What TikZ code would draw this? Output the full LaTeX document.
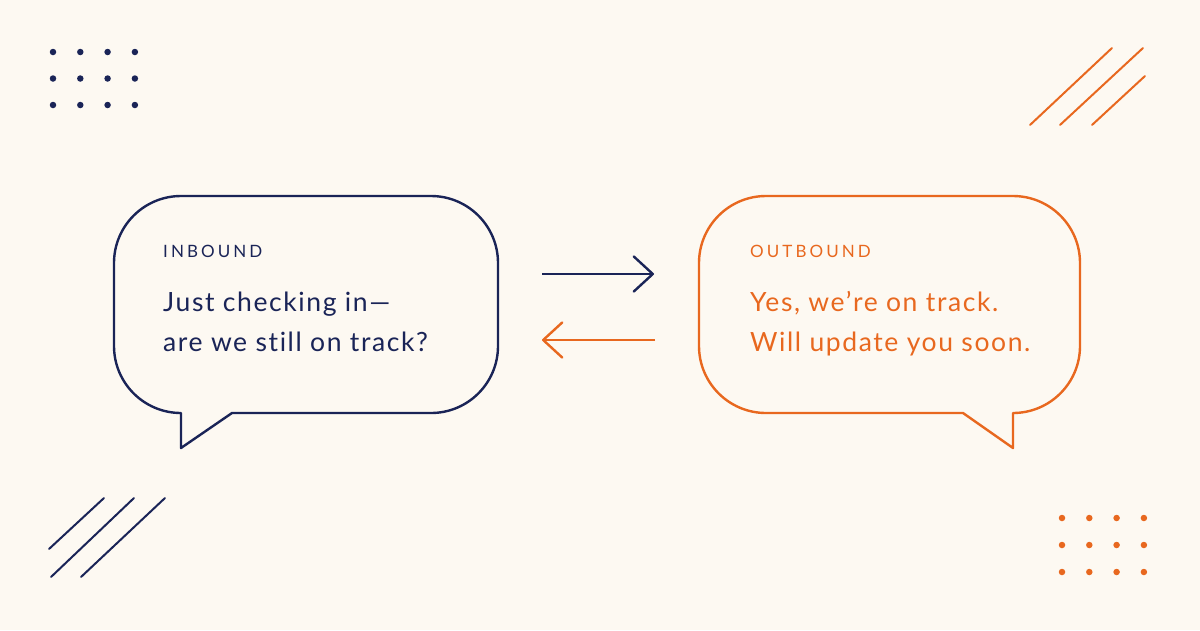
\documentclass[tikz,border=0pt]{standalone}
\usepackage{fontspec}
\usetikzlibrary{arrows.meta}
\setmainfont{Lato}[Ligatures=NoCommon]
\newfontfamily\capsfont[LetterSpace=18]{Lato}
\newfontfamily\msgfont[LetterSpace=6,Ligatures=NoCommon]{Lato}
\definecolor{navy}{HTML}{1A2457}
\definecolor{orng}{HTML}{E8681F}
\definecolor{bgc}{HTML}{FDF9F2}
\begin{document}
\begin{tikzpicture}[x=1pt,y=-1pt,
  bubble/.style={line width=2.4pt,line join=round},
  tagtext/.style={anchor=base west,inner sep=0pt,font=\fontsize{17}{20}\capsfont},
  msgtext/.style={anchor=base west,inner sep=0pt,font=\fontsize{26.5}{30}\msgfont},
  flow/.style={line width=2.4pt,-{Straight Barb[length=19pt,width=35pt,line cap=round,line join=round]}},
  deco/.style={line width=2pt,line cap=round},
  dot/.style={circle,inner sep=0pt,minimum size=6.5pt}]
\fill[bgc] (0,0) rectangle (1200,630);
\useasboundingbox (0,0) rectangle (1200,630);
% decorations
\foreach \i in {0,1,2,3}{\foreach \j in {0,1,2}{
  \node[dot,fill=navy] (nd\i\j) at (53+27.3*\i,52+26.5*\j) {};
  \node[dot,fill=orng] (od\i\j) at (1062+27.3*\i,518+27*\j) {};
}}
\coordinate (tr1a) at (1030,125); \coordinate (tr1b) at (1112,48);
\coordinate (tr2a) at (1060,125); \coordinate (tr2b) at (1143,48);
\coordinate (tr3a) at (1092,125); \coordinate (tr3b) at (1145,76);
\draw[deco,orng] (tr1a) -- (tr1b); \draw[deco,orng] (tr2a) -- (tr2b); \draw[deco,orng] (tr3a) -- (tr3b);
\coordinate (bl1a) at (49,549); \coordinate (bl1b) at (104,498);
\coordinate (bl2a) at (51,577); \coordinate (bl2b) at (134,498);
\coordinate (bl3a) at (81,577); \coordinate (bl3b) at (165,498);
\draw[deco,navy] (bl1a) -- (bl1b); \draw[deco,navy] (bl2a) -- (bl2b); \draw[deco,navy] (bl3a) -- (bl3b);
% left bubble
\draw[bubble,navy] (232,413) -- (431,413) arc[start angle=90,end angle=0,radius=67]
  -- (498,263) arc[start angle=0,end angle=-90,radius=67]
  -- (181,196) arc[start angle=-90,end angle=-180,radius=67]
  -- (114,346) arc[start angle=180,end angle=90,radius=67]
  -- (181,448) -- cycle;
\node[tagtext,text=navy] (inlabel) at (163,257) {INBOUND};
\node[msgtext,text=navy] (inA) at (163,311) {Just checking in—};
\node[msgtext,text=navy] (inB) at (163,351) {are we still on track?};
% right bubble
\draw[bubble,orng] (963,413) -- (766,413) arc[start angle=90,end angle=180,radius=67]
  -- (699,263) arc[start angle=180,end angle=270,radius=67]
  -- (1013,196) arc[start angle=270,end angle=360,radius=67]
  -- (1080,346) arc[start angle=0,end angle=90,radius=67]
  -- (1013,448) -- cycle;
\node[tagtext,text=orng] (outlabel) at (750,257) {OUTBOUND};
\node[msgtext,text=orng] (outA) at (750,311) {Yes, we’re on track.};
\node[msgtext,text=orng] (outB) at (750,351) {Will update you soon.};
% arrows
\coordinate (a1s) at (542,274); \coordinate (a1e) at (654,274);
\coordinate (a2s) at (655,340); \coordinate (a2e) at (542,340);
\draw[flow,navy] (a1s) -- (a1e);
\draw[flow,orng] (a2s) -- (a2e);
\end{tikzpicture}
\end{document}
